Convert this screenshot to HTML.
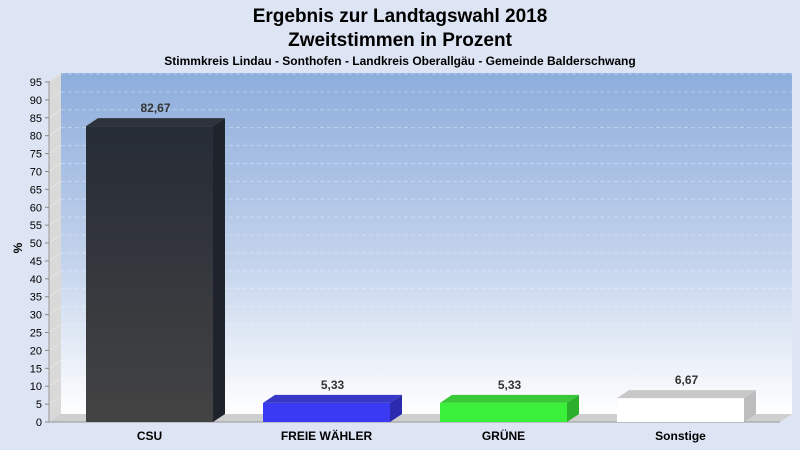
<!DOCTYPE html>
<html><head><meta charset="utf-8"><style>
body{margin:0;background:#dde4f3;}
svg{display:block;font-family:"Liberation Sans",sans-serif;}
</style></head><body>
<svg id="chart" width="800" height="450">
<defs>
<linearGradient id="wall" x1="0" y1="0" x2="0" y2="1">
<stop offset="0" stop-color="#8daddc"/><stop offset="0.55" stop-color="#c3d3ec"/><stop offset="1" stop-color="#ffffff"/>
</linearGradient>
<linearGradient id="csuG" x1="0" y1="0" x2="0" y2="1"><stop offset="0" stop-color="#262c36"/><stop offset="1" stop-color="#434343"/></linearGradient>
</defs>
<rect width="800" height="450" fill="#dde4f3"/>
<text x="400" y="22" text-anchor="middle" font-size="19" font-weight="bold">Ergebnis zur Landtagswahl 2018</text>
<text x="400" y="46" text-anchor="middle" font-size="19" font-weight="bold">Zweitstimmen in Prozent</text>
<text x="400" y="65" text-anchor="middle" font-size="12" font-weight="bold">Stimmkreis Lindau - Sonthofen - Landkreis Oberallgäu - Gemeinde Balderschwang</text>
<rect x="61" y="73" width="731" height="341" fill="url(#wall)"/>
<polygon points="49,81 61,73 61,414 49,422" fill="#d9d9d9"/>
<polygon points="49,422 61,414 792,414 780,422" fill="#cfcfcf"/>
<g id="grid"></g>
<line x1="49" y1="81" x2="49" y2="422" stroke="#999"/>
<line x1="49" y1="422" x2="780" y2="422" stroke="#999"/>
<text x="22" y="248" font-size="12" font-weight="bold" transform="rotate(-90 22 248)" text-anchor="middle">%</text>
<g id="bars"></g>
</svg>
<script>
const categories=["CSU","FREIE WÄHLER","GRÜNE","Sonstige"];
const values=[82.67,5.33,5.33,6.67];
const valueLabels=["82,67","5,33","5,33","6,67"];
const ticks=[0,5,10,15,20,25,30,35,40,45,50,55,60,65,70,75,80,85,90,95];
const colors=[["url(#csuG)","#2e333b","#1f242c"],["#3a3af5","#3838c8","#2b2bb0"],["#3af03a","#38c838","#2bb02b"],["#ffffff","#c8c8c8","#bdbdbd"]];
const NS="http://www.w3.org/2000/svg";
const y=v=>422-v*(340/95);
const DX=12,DY=8;
const x0=i=>86+i*177, BW=127;
function mk(tag,attrs,parent){const e=document.createElementNS(NS,tag);for(const k in attrs)e.setAttribute(k,attrs[k]);parent.appendChild(e);return e;}
const grid=document.getElementById('grid'),bars=document.getElementById('bars'),svg=document.getElementById('chart');
ticks.forEach(t=>{
  const gy=y(t);
  if(t>0){const l=mk('line',{x1:61,y1:gy-DY,x2:792,y2:gy-DY,stroke:'rgba(255,255,255,0.35)','stroke-dasharray':'4,3'},grid);
  
  
  const d=mk('line',{x1:49,y1:gy,x2:61,y2:gy-DY,stroke:'#e4e4e4'},grid);
  
  }
  const tk=mk('line',{x1:45,y1:gy,x2:49,y2:gy,stroke:'#888'},svg);
  
  
  const tx=mk('text',{x:42,y:gy+4,'text-anchor':'end','font-size':11},svg);
  tx.textContent=t;
  
  
});
categories.forEach((c,i)=>{
  const xl=x0(i),xr=xl+BW,yt=y(values[i]),yb=422;
  const g=mk('g',{},bars);
  
  
  mk('rect',{x:xl,y:yt,width:BW,height:yb-yt,fill:colors[i][0]},g);
  mk('polygon',{points:`${xl},${yt} ${xl+DX},${yt-DY} ${xr+DX},${yt-DY} ${xr},${yt}`,fill:colors[i][1]},g);
  mk('polygon',{points:`${xr},${yt} ${xr+DX},${yt-DY} ${xr+DX},${yb-DY} ${xr},${yb}`,fill:colors[i][2]},g);
  const vl=mk('text',{x:xl+BW/2+DX/2,y:yt-DY-6,'text-anchor':'middle','font-size':12,'font-weight':'bold',fill:'#333'},svg);
  vl.textContent=valueLabels[i];
  
  
  const cl=mk('text',{x:xl+BW/2,y:440,'text-anchor':'middle','font-size':12,'font-weight':'bold'},svg);
  cl.textContent=c;
  
  
});
</script>
</body></html>
